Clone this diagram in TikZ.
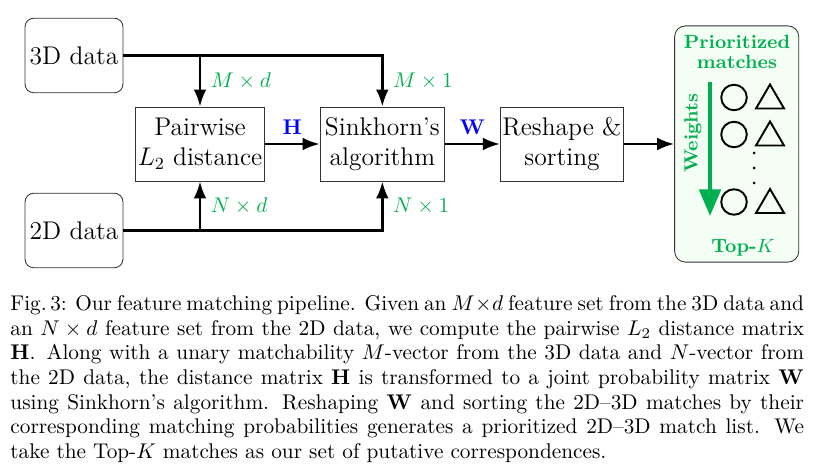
\documentclass[tikz,border=0pt]{standalone}
\usepackage{amsmath}
\usetikzlibrary{positioning, arrows.meta}
\definecolor{matchgreen}{RGB}{0,176,80}
\definecolor{panelgreen}{RGB}{244,254,244}
\definecolor{matrixblue}{RGB}{0,0,255}

\begin{document}
\begin{tikzpicture}[
            x=0.47pt, y=-0.47pt,
            node distance=25.8pt,
            box/.style={draw=black!80, align=center, minimum width=58.5pt, minimum height=34.8pt, inner sep=1pt, font=\large},
            data/.style={box, rounded corners=4pt, minimum width=46pt, minimum height=35pt},
            arrow/.style={-{Latex[length=8pt, width=6pt]}, line width=1.2pt},
            dim/.style={text=matchgreen, inner sep=2pt},
            mat/.style={text=matrixblue, inner sep=2pt},
            panel/.style={draw=black!80, rounded corners=5pt, fill=panelgreen, minimum width=58.3pt, minimum height=111pt},
            tag/.style={text=matchgreen, font=\fontsize{9}{9.6}\selectfont\bfseries, align=center, inner sep=0pt},
            weight/.style={draw=matchgreen, line width=2pt, -{Triangle[length=12.5pt, width=10pt]}},
            mark line/.style={line width=0.9pt}
        ]
            \useasboundingbox (0,0) rectangle (813,471);
            \node[box] (pair) at (200,144) {Pairwise\\$L_2$ distance};
\node[box, right=of pair] (sink) {Sinkhorn's\\algorithm};
            \node[box, right=of sink, minimum width=57pt] (sort) {Reshape \&\\sorting};
            \node[panel, right=23.5pt of sort] (list) {};
\node[data] (d3) at (74,55.5) {3D data};
            \node[data] (d2) at (74,230.5) {2D data};
            \draw[arrow] (d3.east) -| node[dim, pos=0.75, right=2.5pt] {$M\times 1$} (sink.north);
            \draw[arrow] (d3.east -| pair.north) -- node[dim, right=2.5pt] {$M\times d$} (pair.north);
            \draw[arrow] (d2.east) -| node[dim, pos=0.75, right=2.5pt] {$N\times 1$} (sink.south);
\draw[arrow] (d2.east -| pair.south) -- node[dim, right=2.5pt] {$N\times d$} (pair.south);
            \draw[arrow] (pair) -- node[mat, above=2pt] {$\mathbf{H}$} (sink);
            \draw[arrow] (sink) -- node[mat, above=2pt] {$\mathbf{W}$} (sort);
            \draw[arrow] (sort) -- (list);
            % prioritized list
            \node[tag] (title) at (737,52) {Prioritized\\matches};
            \node[tag] (topk) at (743,248) {Top-$K$};
            \node[tag, rotate=90] (wt) at (693,133) {Weights};
            \coordinate (wtop) at (710,82);
            \coordinate (wbot) at (710,216);
            \draw[weight] (wtop) -- (wbot);
            \foreach \y in {97.5, 134.5, 202} {
                \draw[mark line] (734,\y) circle[radius=6pt];
                \draw[mark line] (756,\y+11) -- (784,\y+11) -- (770,\y-13) -- cycle;
            }
            \foreach \y in {153, 168, 183}
                \fill (754,\y) circle[radius=0.7pt];
            % caption
            \node[anchor=north west, text width=373pt, align=justify, inner sep=0pt, font=\fontsize{10}{11.6}\selectfont] (cap) at (10,295) {Fig.\,3: Our feature matching pipeline. Given an $M\times d$ feature set from the 3D data and\linebreak an $N\times d$ feature set from the 2D data, we compute the pairwise $L_2$ distance matrix\linebreak $\mathbf{H}$. Along with a unary matchability $M$-vector from the 3D data and $N$-vector from\linebreak the 2D data, the distance matrix $\mathbf{H}$ is transformed to a joint probability matrix $\mathbf{W}$\linebreak using Sinkhorn's algorithm. Reshaping $\mathbf{W}$ and sorting the 2D--3D matches by their\linebreak corresponding matching probabilities generates a prioritized 2D--3D match list. We\linebreak take the Top-$K$ matches as our set of putative correspondences.};
        \end{tikzpicture}
\end{document}
